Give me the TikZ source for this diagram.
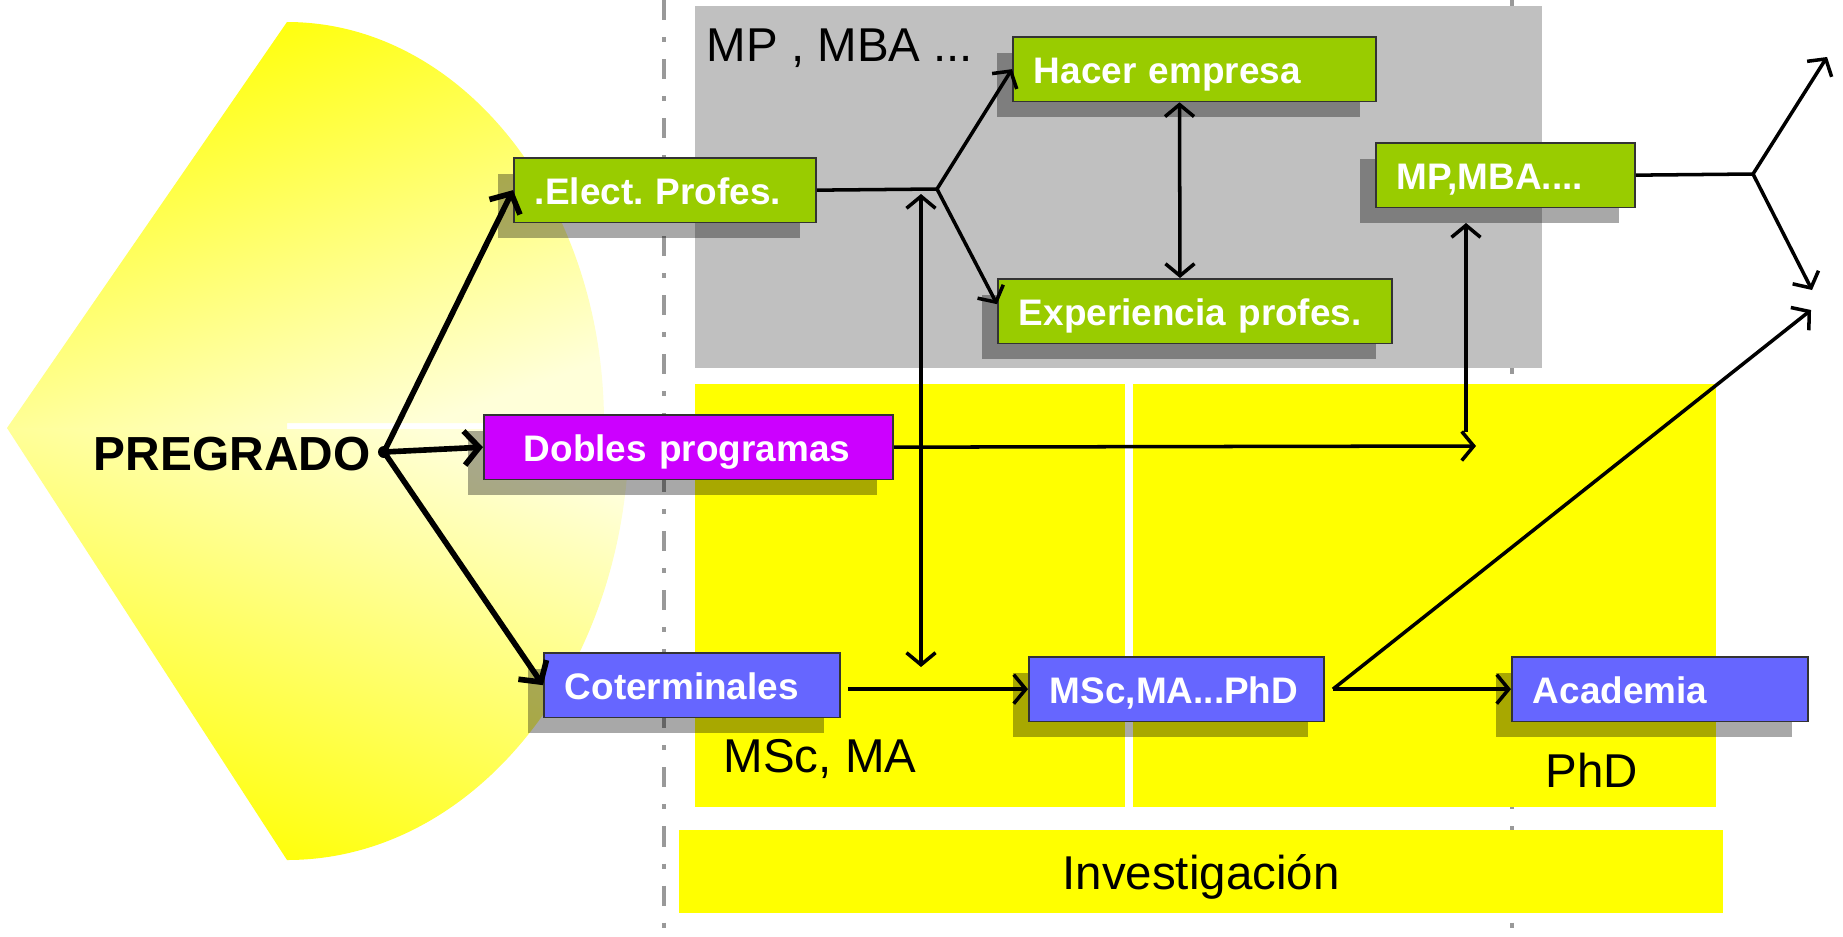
\documentclass[tikz,border=0pt]{standalone}
\usepackage{fontspec}
\setmainfont{Liberation Sans}
\frenchspacing
\usetikzlibrary{positioning,calc}
\usetikzlibrary{arrows.meta,shadows}

\definecolor{verde}{HTML}{99CC00}
\definecolor{morado}{HTML}{CC00FF}
\definecolor{azul}{HTML}{6666FF}
\definecolor{gris}{HTML}{C0C0C0}
\definecolor{amarillo}{HTML}{FFFF00}
\definecolor{guia}{HTML}{999999}

\tikzset{
  caja/.style={draw=black!80, line width=0.5pt, text=white, anchor=north west,
    font=\fontsize{10.5}{12}\selectfont\bfseries, align=left,
    minimum height=0.645cm, inner xsep=0.21cm, inner ysep=0pt,
    text height=8pt, text depth=0pt,
    drop shadow={shadow xshift=-0.16cm, shadow yshift=-0.16cm, fill=black, opacity=0.34}},
  etiqueta/.style={inner sep=0pt, font=\fontsize{13.5}{16}\selectfont},
  gruesa/.style={line width=1.6pt, -{Straight Barb[length=0.15cm, width=0.34cm]}},
  fina/.style={line width=1pt, -{Straight Barb[length=0.12cm, width=0.29cm]}},
  doble/.style={line width=1pt, {Straight Barb[length=0.12cm, width=0.29cm]}-{Straight Barb[length=0.12cm, width=0.29cm]}},
  guiapunto/.style={guia, line width=1.2pt, dash pattern=on 0.2cm off 0.17cm on 0.05cm off 0.17cm},
}

\begin{document}
\begin{tikzpicture}[x=0.01cm, y=-0.01cm]
  \useasboundingbox (0,0) rectangle (1843,936);

  % The fan behind PREGRADO (two halves)
  \shade[top color=amarillo, bottom color=amarillo!15, shading angle=20]
    (7,428) -- (287,22) arc[start angle=-90, end angle=0, x radius=317, y radius=401]
    -- (287,423) -- (287,428) -- cycle;
  \shade[top color=amarillo!15, bottom color=amarillo, shading angle=-20]
    (7,428) -- (287,428) -- (287,429) -- (629,429)
    arc[start angle=0, end angle=90, x radius=342, y radius=431] -- cycle;

  % Dash-dot guides
  \draw[guiapunto] (664,0) -- (664,936);
  \draw[guiapunto] (1512,0) -- (1512,936);

  % Background blocks
  \fill[gris] (695,6) rectangle (1542,368);
  \fill[amarillo] (695,384) rectangle (1125,807);
  \fill[amarillo] (1133,384) rectangle (1716,807);
  \fill[amarillo] (679,830) rectangle (1723,913);

  % Labels
  \node[etiqueta, anchor=base west] (mpmbatxt) at (706,61) {MP , MBA ...};
  \node[etiqueta, anchor=base] (mscma) at (820,772) {MSc, MA};
  \node[etiqueta, anchor=base] (phd) at (1592,787) {PhD};
  \node[etiqueta, anchor=base] (investig) at (1201,889) {Investigación};
  \node[inner sep=0pt, anchor=base east, font=\fontsize{13.6}{16}\selectfont\bfseries] (pregrado) at (371,470) {PREGRADO};
  \node[circle, fill=black, inner sep=0pt, minimum size=0.12cm] (punto) at (384,452) {};

  % Boxes
  \node[caja, fill=verde, text width=2.60cm] (elect) at (513,157) {.Elect. Profes.};
  \node[caja, fill=verde, text width=3.21cm] (hacer) at (1012,36) {Hacer empresa};
  \node[caja, fill=verde, text width=3.52cm] (exper) at (997,278) {Experiencia profes.};
  \node[caja, fill=verde, text width=2.17cm] (mpmba) at (1375,142) {MP,MBA....};
  \node[caja, fill=morado, inner xsep=0.40cm, text width=3.29cm] (dobles) at (483,414) {Dobles programas};
  \node[caja, fill=azul, text width=2.54cm] (coterm) at (543,652) {Coterminales};
  \node[caja, fill=azul, text width=2.53cm] (msc) at (1028,656) {MSc,MA...PhD};
  \node[caja, fill=azul, text width=2.54cm] (academia) at (1511,656) {Academia};

  % Arrows out of PREGRADO
  \draw[gruesa] (punto.center) -- (elect.west);
  \draw[gruesa] (punto.center) -- (dobles.west);
  \draw[gruesa] (punto.center) -- (coterm.west);

  % Professional branch
  \coordinate (nudo1) at (937,189);
  \draw[line width=1pt] (elect.east) -- (nudo1);
  \draw[fina] (nudo1) -- (hacer.west);
  \draw[fina] (nudo1) -- ([yshift=0.07cm]exper.west);
  \draw[doble] ([xshift=-0.15cm]hacer.south) -- ([xshift=-0.15cm]exper.north);
  \coordinate (v1a) at (921,194);
  \coordinate (v1b) at (921,667);
  \draw[doble] (v1a) -- (v1b);

  % Dobles programas
  \coordinate (d1) at (1476,446);
  \coordinate (d2) at (1466,432);
  \coordinate (d3) at (1466,223);
  \draw[fina] (dobles.east) -- (d1);
  \draw[fina] (d2) -- (d3);

  % Academic branch
  \coordinate (s1) at (1811,310);
  \draw[fina] ($(coterm.east |- msc.west)+(7,0)$) -- (msc.west);
  \draw[fina] ([xshift=0.08cm]msc.east) -- (academia.west);
  \draw[fina] ([xshift=0.08cm]msc.east) -- (s1);

  % Out of MP,MBA
  \coordinate (nudo2) at (1753,174);
  \coordinate (s2) at (1827,57);
  \coordinate (s3) at (1812,290);
  \draw[line width=1pt] (mpmba.east) -- (nudo2);
  \draw[fina] (nudo2) -- (s2);
  \draw[fina] (nudo2) -- (s3);
\end{tikzpicture}
\end{document}
